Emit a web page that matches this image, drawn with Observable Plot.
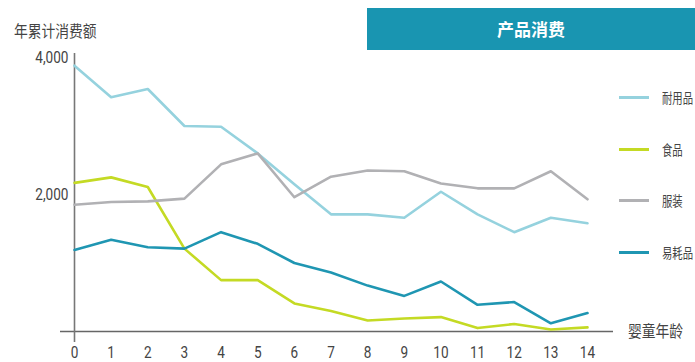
<!DOCTYPE html>
<html>
<head>
<meta charset="utf-8">
<script src="https://cdn.jsdelivr.net/npm/d3@7"></script>
<script src="https://cdn.jsdelivr.net/npm/@observablehq/plot@0.6"></script>
<style>
  html, body { margin: 0; padding: 0; background: #fff; }
  #wrap { position: relative; width: 695px; height: 362px; overflow: hidden; font-family: "Noto Sans CJK SC", "Noto Sans", sans-serif; }
  #wrap svg { position: absolute; left: 0; top: 0; }
  .cjk { position: absolute; white-space: nowrap; color: #444; transform-origin: left center; }
  #title { position: absolute; left: 367px; top: 8px; width: 328px; height: 42px; background: #1995b1; color: #fff; font-weight: bold; font-size: 17px; line-height: 42px; text-align: center; }
  .leg-line { position: absolute; height: 3px; width: 30px; }
</style>
</head>
<body>
<div id="wrap"></div>
<script>
const ages = [0,1,2,3,4,5,6,7,8,9,10,11,12,13,14];
const seriesNames = ["耐用品", "食品", "服装", "易耗品"];
const seriesColors = ["#95d2de", "#c4da24", "#b1b1b4", "#1f96b2"];
const durable     = [3880,3420,3540,3000,2990,2600,2150,1710,1710,1660,2040,1710,1450,1660,1580];
const food        = [2170,2250,2110,1210,750,750,410,300,160,190,210,50,110,30,60];
const apparel     = [1850,1890,1900,1940,2440,2600,1960,2260,2350,2340,2160,2090,2090,2340,1930];
const consumables = [1190,1340,1230,1210,1450,1280,1000,860,670,520,730,390,430,120,270];
const yTicks = [2000, 4000];
const titleText = "产品消费";
const yLabel = "年累计消费额";
const xLabel = "婴童年龄";

const seriesValues = [durable, food, apparel, consumables];
const data = [];
seriesNames.forEach((s, i) => ages.forEach((a, j) => data.push({series: s, age: a, value: seriesValues[i][j]})));

const numFont = "'Roboto', sans-serif";

const chart = Plot.plot({
  width: 695,
  height: 362,
  marginLeft: 74,
  marginRight: 108,
  marginTop: 57,
  marginBottom: 31,
  style: { background: "transparent", fontFamily: numFont, color: "#444" },
  x: { domain: [0, 14], axis: null },
  y: { domain: [0, 4000], axis: null },
  color: { domain: seriesNames, range: seriesColors },
  marks: [
    Plot.axisX({ ticks: ages, tickSize: 0, tickPadding: 14, fontSize: 17, tickFormat: d => String(d), fill: "#444", label: null }),
    Plot.axisY({ ticks: yTicks, tickSize: 0, tickPadding: 6, fontSize: 17, tickFormat: d3.format(","), fill: "#444", label: null }),
    Plot.ruleY([0], { insetLeft: -14, insetRight: -26, stroke: "#666", strokeWidth: 1.6 }),
    Plot.ruleX([0], { insetTop: -4, insetBottom: -11, stroke: "#777", strokeWidth: 1.6 }),
    Plot.line(data, { x: "age", y: "value", z: "series", stroke: "series", strokeWidth: 2.6, strokeLinejoin: "round" })
  ]
});

// condense the numeric tick labels horizontally
chart.querySelectorAll('g[aria-label$="tick label"] text').forEach(el => {
  const tr = el.getAttribute("transform") || "";
  el.setAttribute("transform", tr + " scale(0.8,1)");
});

const wrap = document.getElementById("wrap");
wrap.appendChild(chart);

const t = document.createElement("div");
t.id = "title"; t.textContent = titleText; wrap.appendChild(t);

const yl = document.createElement("div");
yl.className = "cjk"; yl.textContent = yLabel;
Object.assign(yl.style, { left: "14px", top: "18px", fontSize: "16px", transform: "scaleX(0.86)" });
wrap.appendChild(yl);

const xl = document.createElement("div");
xl.className = "cjk"; xl.textContent = xLabel;
Object.assign(xl.style, { left: "628px", top: "318px", fontSize: "16px", transform: "scaleX(0.86)" });
wrap.appendChild(xl);

const legTops = [97, 149, 200, 252];
seriesNames.forEach((s, i) => {
  const ln = document.createElement("div");
  ln.className = "leg-line";
  Object.assign(ln.style, { left: "619px", top: (legTops[i] - 1.5) + "px", background: seriesColors[i] });
  wrap.appendChild(ln);
  const lb = document.createElement("div");
  lb.className = "cjk"; lb.textContent = s;
  Object.assign(lb.style, { left: "662px", top: (legTops[i] - 11) + "px", fontSize: "14px", lineHeight: "22px", transform: "scaleX(0.74)" });
  wrap.appendChild(lb);
});
</script>
</body>
</html>
